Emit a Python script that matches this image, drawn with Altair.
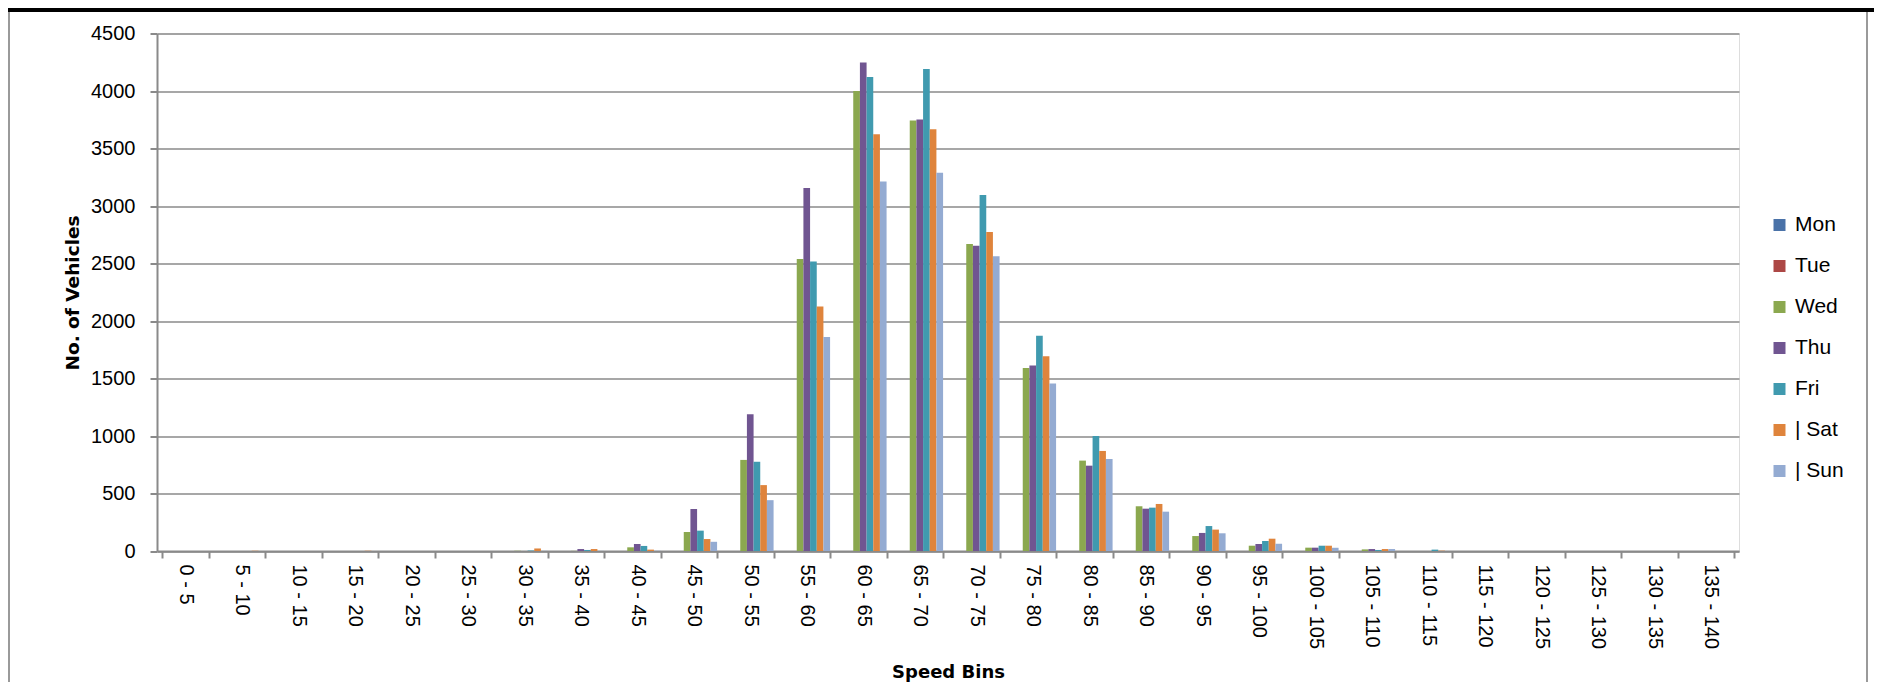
import altair as alt
import pandas as pd

bins = ["0 - 5", "5 - 10", "10 - 15", "15 - 20", "20 - 25", "25 - 30", "30 - 35",
        "35 - 40", "40 - 45", "45 - 50", "50 - 55", "55 - 60", "60 - 65", "65 - 70",
        "70 - 75", "75 - 80", "80 - 85", "85 - 90", "90 - 95", "95 - 100",
        "100 - 105", "105 - 110", "110 - 115", "115 - 120", "120 - 125",
        "125 - 130", "130 - 135", "135 - 140"]

days = ["Mon", "Tue", "Wed", "Thu", "Fri", "| Sat", "| Sun"]

mon = [0] * 28
tue = [0] * 28
wed = [0, 0, 0, 0, 0, 0, 2, 1, 32, 165, 792, 2539, 4000, 3743, 2670, 1592, 786, 389,
       130, 46, 29, 14, 0, 0, 0, 0, 0, 0]
thu = [0, 0, 0, 0, 0, 0, 0, 17, 61, 365, 1190, 3157, 4248, 3752, 2655, 1612, 742, 368,
       157, 61, 29, 17, 0, 0, 0, 0, 0, 0]
fri = [0, 0, 0, 0, 0, 0, 4, 9, 44, 177, 776, 2518, 4122, 4191, 3095, 1872, 1000, 377,
       217, 87, 46, 9, 12, 0, 0, 0, 0, 0]
sat = [0, 2, 0, 2, 0, 0, 22, 17, 12, 104, 573, 2127, 3623, 3668, 2775, 1694, 870, 409,
       186, 107, 46, 17, 3, 0, 0, 0, 0, 0]
sun = [0, 0, 0, 0, 0, 0, 1, 1, 2, 80, 442, 1861, 3214, 3290, 2562, 1456, 800, 342,
       154, 63, 28, 17, 0, 0, 0, 0, 0, 0]

colors = ["#4a72a8", "#ac4745", "#8ba84f", "#705591", "#409aaf", "#df843c", "#94abd2"]
y_ticks = [0, 500, 1000, 1500, 2000, 2500, 3000, 3500, 4000, 4500]

series = [mon, tue, wed, thu, fri, sat, sun]
rows = []
for d, vals in zip(days, series):
    for b, v in zip(bins, vals):
        rows.append({"bin": b, "day": d, "count": v})
df = pd.DataFrame(rows)

W = 1582
H = 517.5
GRID = "#8a8a8a"
LABEL_FONT = "Liberation Sans"
TITLE_FONT = "DejaVu Sans"

bars = alt.Chart(df).mark_bar().encode(
    x=alt.X("bin:N", sort=bins,
            scale=alt.Scale(paddingInner=0.174, paddingOuter=0.087),
            axis=alt.Axis(title="Speed Bins", labelAngle=90, labelFontSize=20,
                          labelFont=LABEL_FONT, labelColor="#000000",
                          labelPadding=6, tickSize=7, tickBand="extent",
                          tickColor=GRID, tickWidth=2, domainColor=GRID,
                          domainWidth=2, grid=False, titleFont=TITLE_FONT,
                          titleFontSize=18, titleFontWeight="bold",
                          titleColor="#000000", titleY=121, titleBaseline="middle")),
    xOffset=alt.XOffset("day:N", sort=days, scale=alt.Scale(paddingInner=0, paddingOuter=0)),
    y=alt.Y("count:Q", scale=alt.Scale(domain=[0, 4500], nice=False),
            axis=alt.Axis(title="No. of Vehicles", values=y_ticks, format="d",
                          labelFontSize=20,
                          labelFont=LABEL_FONT, labelColor="#000000",
                          labelPadding=15, tickSize=7, tickColor=GRID, tickWidth=2,
                          domainColor=GRID, domainWidth=2, gridColor=GRID,
                          gridWidth=1.6, titleFont=TITLE_FONT, titleFontSize=18.5,
                          titleFontWeight="bold", titleColor="#000000",
                          titleX=-85, titleY=259, titleAlign="center",
                          titleBaseline="middle", titleAngle=-90)),
    color=alt.Color("day:N", sort=days, scale=alt.Scale(domain=days, range=colors),
                    legend=alt.Legend(title=None, orient="none", legendX=1612,
                                      legendY=181, symbolType="square",
                                      symbolSize=144, symbolStrokeWidth=0,
                                      labelFontSize=21, labelFont=LABEL_FONT,
                                      labelColor="#000000", labelOffset=5,
                                      rowPadding=19, padding=0)),
)

frame_left = alt.Chart(df).mark_rule(color="#9a9a9a", strokeWidth=2).encode(
    x=alt.value(-148), y=alt.value(-25.5), y2=alt.value(H + 131))
frame_right = alt.Chart(df).mark_rule(color="#9a9a9a", strokeWidth=2).encode(
    x=alt.value(1710), y=alt.value(-25.5), y2=alt.value(H + 131))
frame_top = alt.Chart(df).mark_rule(color="#000000", strokeWidth=4).encode(
    x=alt.value(-149), x2=alt.value(1717), y=alt.value(-24))

chart = alt.layer(bars, frame_left, frame_right, frame_top).properties(
    width=W, height=H,
    autosize=alt.AutoSizeParams(type="none"),
    padding={"left": 149, "top": 25.5, "right": 135, "bottom": 131},
).configure_view(stroke=None).configure(background="white")

chart.save("out.html", embed_options={"renderer": "svg", "actions": False})
